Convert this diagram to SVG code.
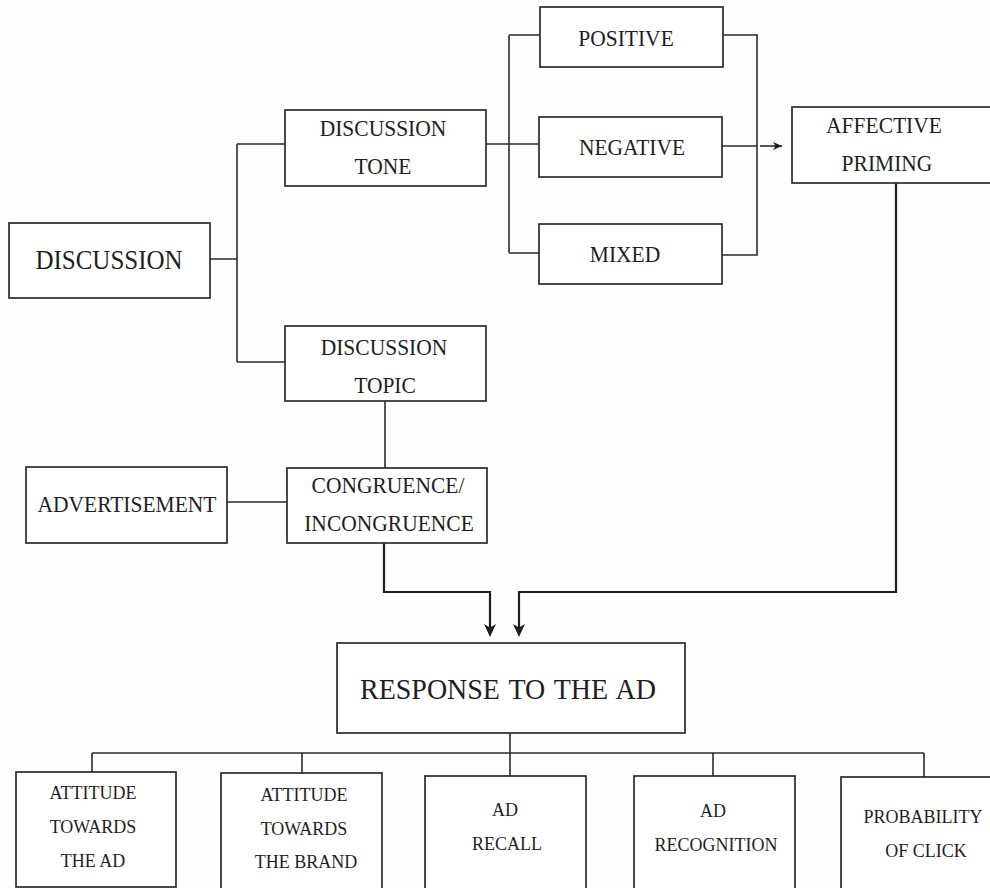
<svg xmlns="http://www.w3.org/2000/svg" width="990" height="888" viewBox="0 0 990 888">
<defs>
<style>
.b{fill:#fff;stroke:#2b2b2b;stroke-width:1.7}
.t{font-family:'Liberation Serif','Times New Roman',serif;fill:#1e1e1e;text-anchor:middle;font-size:21.5px}
.s{font-size:18px}
.c{fill:none;stroke:#2b2b2b;stroke-width:1.6}
.a{fill:none;stroke:#1e1e1e;stroke-width:2.2}
</style>
<marker id="big" markerUnits="userSpaceOnUse" markerWidth="14" markerHeight="14" refX="7" refY="6" orient="auto" viewBox="0 0 14 14">
<path d="M0,0 L13,6 L0,12 L3.5,6 Z" fill="#1e1e1e"/>
</marker>
<marker id="small" markerUnits="userSpaceOnUse" markerWidth="10" markerHeight="10" refX="9" refY="4" orient="auto" viewBox="0 0 10 10">
<path d="M0,0 L9,4 L0,8 L2.5,4 Z" fill="#1e1e1e"/>
</marker>
</defs>
<rect width="990" height="888" fill="#fefefe"/>
<g id="connectors">
<path class="c" d="M210,259 H237 M237,144 V362 M237,144 H285 M237,362 H285"/>
<path class="c" d="M486,144 H539 M509,35 V253 M509,35 H540 M509,253 H539"/>
<path class="c" d="M723,35 H757 V255 H722 M722,146 H757"/>
<path class="c" d="M760,146 H782" marker-end="url(#small)"/>
<path class="c" d="M385,401 V468 M227,502 H287"/>
<path class="a" d="M896,183 V592 H519 V631" marker-end="url(#big)"/>
<path class="a" d="M384,543 V592 H490 V631" marker-end="url(#big)"/>
<path class="c" d="M510,733 V753 M92,753 H924 M92,753 V772 M302,753 V773 M510,753 V776 M713,753 V776 M924,753 V777"/>
</g>
<g id="discussion"><rect class="b" x="9" y="223" width="201" height="75"/><text class="t" transform="translate(109,269) scale(1,1.08)" style="font-size:25px">DISCUSSION</text></g>
<g id="discussion-tone"><rect class="b" x="285" y="110" width="201" height="76"/><text class="t" transform="translate(383,136) scale(1,1.1)">DISCUSSION</text><text class="t" transform="translate(383,174) scale(1,1.1)">TONE</text></g>
<g id="positive"><rect class="b" x="540" y="7" width="183" height="60"/><text class="t" transform="translate(626,46) scale(1,1.1)">POSITIVE</text></g>
<g id="negative"><rect class="b" x="539" y="117" width="183" height="60"/><text class="t" transform="translate(632,155) scale(1,1.1)">NEGATIVE</text></g>
<g id="mixed"><rect class="b" x="539" y="224" width="183" height="60"/><text class="t" transform="translate(625,262) scale(1,1.1)">MIXED</text></g>
<g id="affective-priming"><rect class="b" x="792" y="107" width="210" height="76"/><text class="t" transform="translate(884,133) scale(1,1.1)">AFFECTIVE</text><text class="t" transform="translate(887,171) scale(1,1.1)">PRIMING</text></g>
<g id="discussion-topic"><rect class="b" x="285" y="326" width="201" height="75"/><text class="t" transform="translate(384,355) scale(1,1.1)">DISCUSSION</text><text class="t" transform="translate(385,393) scale(1,1.1)">TOPIC</text></g>
<g id="advertisement"><rect class="b" x="26" y="467" width="201" height="76"/><text class="t" transform="translate(127,512) scale(1,1.1)">ADVERTISEMENT</text></g>
<g id="congruence"><rect class="b" x="287" y="468" width="200" height="75"/><text class="t" transform="translate(388,493) scale(1,1.1)">CONGRUENCE/</text><text class="t" transform="translate(389,531) scale(1,1.1)">INCONGRUENCE</text></g>
<g id="response"><rect class="b" x="337" y="643" width="348" height="90"/><text class="t" transform="translate(508,699) scale(1,1.04)" style="font-size:28px;word-spacing:2px">RESPONSE TO THE AD</text></g>
<g id="attitude-ad"><rect class="b" x="16" y="772" width="160" height="115"/><text class="t s" transform="translate(93,799) scale(1,1.1)">ATTITUDE</text><text class="t s" transform="translate(93,833) scale(1,1.1)">TOWARDS</text><text class="t s" transform="translate(93,867) scale(1,1.1)">THE AD</text></g>
<g id="attitude-brand"><rect class="b" x="221" y="773" width="161" height="125"/><text class="t s" transform="translate(304,801) scale(1,1.1)">ATTITUDE</text><text class="t s" transform="translate(304,835) scale(1,1.1)">TOWARDS</text><text class="t s" transform="translate(306,868) scale(1,1.1)">THE BRAND</text></g>
<g id="ad-recall"><rect class="b" x="425" y="776" width="161" height="125"/><text class="t s" transform="translate(505,816) scale(1,1.1)">AD</text><text class="t s" transform="translate(507,850) scale(1,1.1)">RECALL</text></g>
<g id="ad-recognition"><rect class="b" x="634" y="776" width="161" height="125"/><text class="t s" transform="translate(713,817) scale(1,1.1)">AD</text><text class="t s" transform="translate(716,851) scale(1,1.1)">RECOGNITION</text></g>
<g id="probability-click"><rect class="b" x="841" y="777" width="170" height="125"/><text class="t s" transform="translate(923,823) scale(1,1.1)">PROBABILITY</text><text class="t s" transform="translate(926,857) scale(1,1.1)">OF CLICK</text></g>
</svg>
